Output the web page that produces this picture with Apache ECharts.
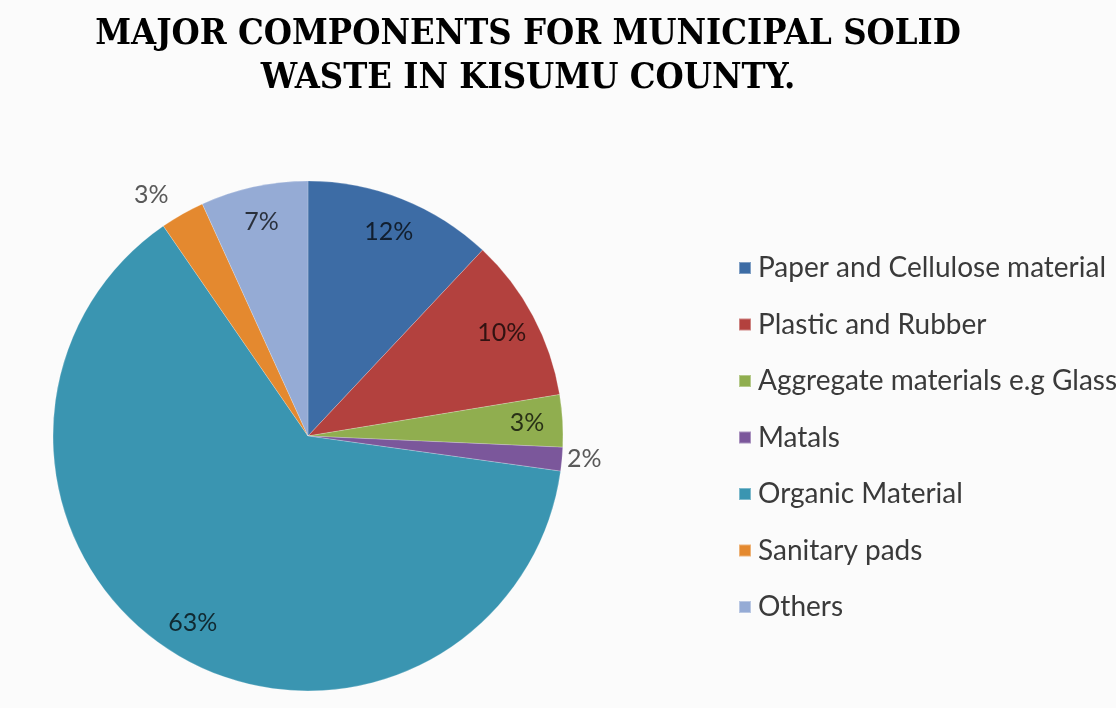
<!DOCTYPE html>
<html>
<head>
<meta charset="utf-8">
<script src="https://cdn.jsdelivr.net/npm/echarts@6/dist/echarts.min.js"></script>
<style>
html,body{margin:0;padding:0;background:#ffffff;}
#chart{width:1116px;height:708px;}
</style>
</head>
<body>
<div id="chart"></div>
<script>
const titleText = 'MAJOR COMPONENTS FOR MUNICIPAL SOLID\nWASTE IN KISUMU COUNTY.';
const categories = ['Paper and Cellulose material', 'Plastic and Rubber', 'Aggregate materials e.g Glass', 'Matals', 'Organic Material', 'Sanitary pads', 'Others'];
const values = [12.0, 10.4, 3.3, 1.5, 63.2, 2.8, 6.8];
const colors = ['#3d6ca5', '#b3413e', '#90ae4f', '#7b579b', '#3a95b1', '#e4892f', '#95abd5'];
const outsideLabels = ['Matals', 'Sanitary pads'];
const outsideLengths = [2, 22];

const chart = echarts.init(document.getElementById('chart'));

const pieData = categories.map((name, i) => ({ name: name, value: values[i], itemStyle: { color: colors[i] } }));
const labelData = categories.map((name, i) => {
  const k = outsideLabels.indexOf(name);
  const outside = k >= 0;
  return {
    name: name,
    value: values[i],
    itemStyle: { color: 'transparent' },
    label: outside ? { position: 'outside', color: '#595959', distanceToLabelLine: 3 } : { position: 'inside', color: 'rgba(0,0,0,0.72)' },
    labelLine: { show: false, length: outside ? outsideLengths[k] : 0, length2: 0 }
  };
});

chart.setOption({
  backgroundColor: '#fbfbfb',
  animation: false,
  color: colors,
  title: {
    text: titleText,
    left: 523,
    top: 8,
    textAlign: 'center',
    textStyle: {
      fontFamily: 'DejaVu Serif Condensed',
      fontWeight: 'bold',
      fontSize: 36,
      lineHeight: 44,
      color: '#000000'
    }
  },
  legend: {
    orient: 'vertical',
    left: 733,
    top: 249,
    icon: 'rect',
    itemWidth: 12,
    itemHeight: 12,
    itemGap: 28.5,
    data: categories,
    textStyle: {
      fontFamily: 'Lato',
      fontSize: 28,
      color: '#3a3a3a',
      padding: [0, 0, 0, 2]
    }
  },
  series: [
    {
      type: 'pie',
      center: [308, 436],
      radius: 255,
      startAngle: 90,
      clockwise: true,
      label: { show: false },
      labelLine: { show: false },
      emphasis: { disabled: true },
      itemStyle: { borderColor: 'rgba(255,255,255,0.35)', borderWidth: 0.6 },
      data: pieData
    },
    {
      type: 'pie',
      center: [308, 436],
      radius: [178, 255],
      startAngle: 90,
      clockwise: true,
      silent: true,
      legendHoverLink: false,
      avoidLabelOverlap: false,
      label: {
        show: true,
        fontFamily: 'Lato',
        fontSize: 25,
        formatter: p => Math.round(p.value) + '%'
      },
      data: labelData
    }
  ]
});
</script>
</body>
</html>
